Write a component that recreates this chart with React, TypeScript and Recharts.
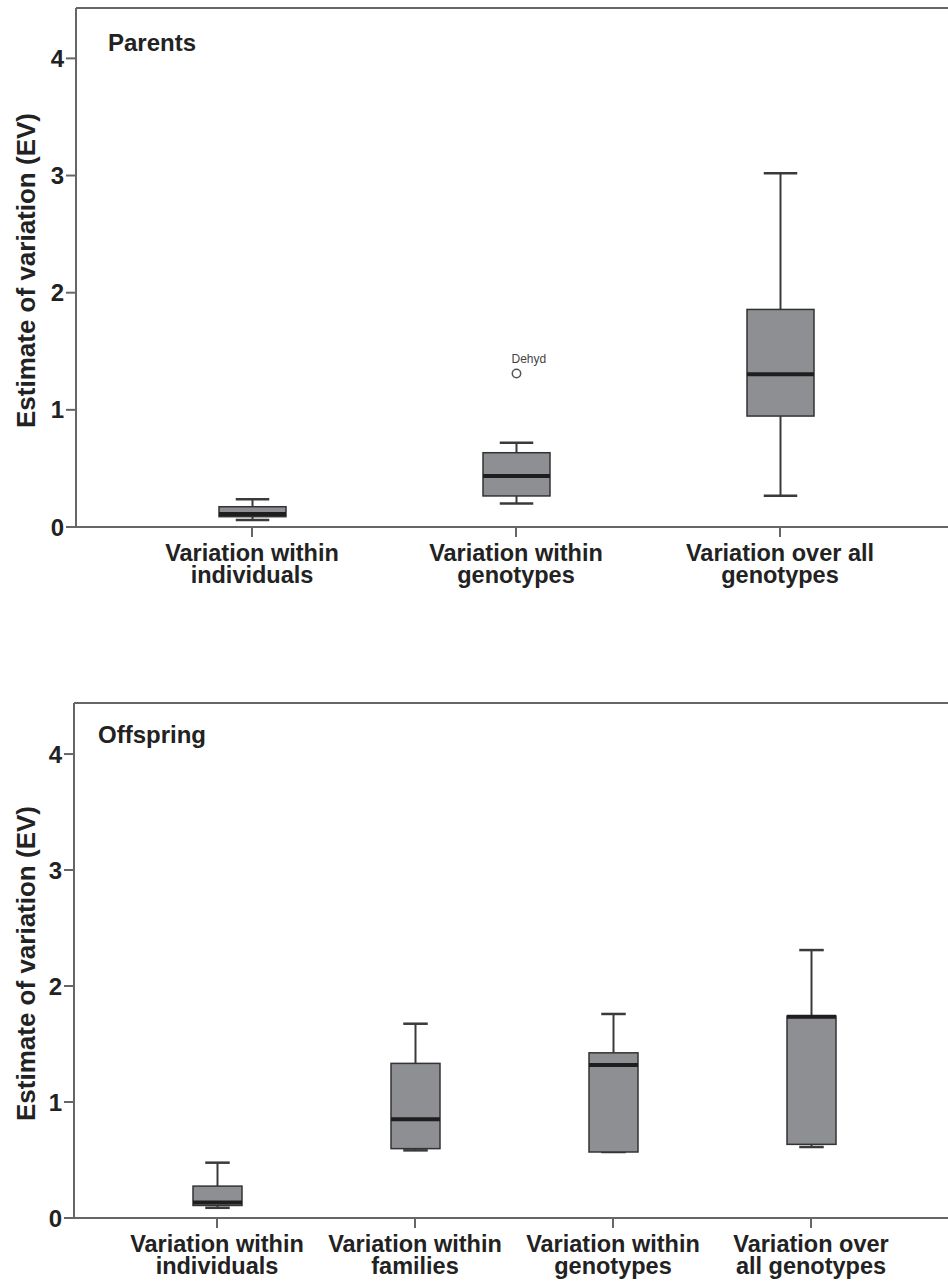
import { ComposedChart, Bar, XAxis, YAxis, ReferenceLine } from 'recharts';

// Parents panel
const parentGroups = ['Variation within\nindividuals', 'Variation within\ngenotypes', 'Variation over all\ngenotypes'];
const parentMin = [0.06, 0.2, 0.267];
const parentQ1 = [0.088, 0.265, 0.947];
const parentMedian = [0.112, 0.435, 1.303];
const parentQ3 = [0.173, 0.634, 1.857];
const parentMax = [0.236, 0.72, 3.02];
const parentOutliers = [[], [{ value: 1.31, label: 'Dehyd' }], []];

// Offspring panel
const offspringGroups = [
  'Variation within\nindividuals',
  'Variation within\nfamilies',
  'Variation within\ngenotypes',
  'Variation over\nall genotypes',
];
const offspringMin = [0.088, 0.583, 0.569, 0.612];
const offspringQ1 = [0.108, 0.598, 0.569, 0.635];
const offspringMedian = [0.134, 0.851, 1.318, 1.735];
const offspringQ3 = [0.275, 1.333, 1.424, 1.741];
const offspringMax = [0.477, 1.675, 1.759, 2.31];

const yTicks = [0, 1, 2, 3, 4];

type Outlier = { value: number; label: string };
type Row = {
  group: string;
  min: number;
  q1: number;
  median: number;
  q3: number;
  max: number;
  outliers: Outlier[];
};

const buildRows = (
  groups: string[],
  min: number[],
  q1: number[],
  median: number[],
  q3: number[],
  max: number[],
  outliers?: Outlier[][]
): Row[] =>
  groups.map((group, i) => ({
    group,
    min: min[i],
    q1: q1[i],
    median: median[i],
    q3: q3[i],
    max: max[i],
    outliers: outliers ? outliers[i] : [],
  }));

const parentRows = buildRows(parentGroups, parentMin, parentQ1, parentMedian, parentQ3, parentMax, parentOutliers);
const offspringRows = buildRows(offspringGroups, offspringMin, offspringQ1, offspringMedian, offspringQ3, offspringMax);

const FONT = '"Liberation Sans", Arial, Helvetica, sans-serif';
const AXIS = '#666';
const INK = '#222';

// The bar spans q1..q3; its pixel height gives the value-to-pixel ratio for whiskers and outliers
const BoxShape = (props: any) => {
  const { x, y, width, height, payload } = props;
  const d = payload as Row;
  const top = Math.min(y, y + height);
  const h = Math.abs(height);
  const bottom = top + h;
  const ppu = h / (d.q3 - d.q1);
  const toY = (v: number) => bottom - (v - d.q1) * ppu;
  const cx = x + width / 2;
  const cap = width / 4;
  return (
    <g>
      <line x1={cx} x2={cx} y1={toY(d.max)} y2={top} stroke="#3a3a3a" strokeWidth={2} />
      <line x1={cx} x2={cx} y1={bottom} y2={toY(d.min)} stroke="#3a3a3a" strokeWidth={2} />
      <line x1={cx - cap} x2={cx + cap} y1={toY(d.max)} y2={toY(d.max)} stroke="#3a3a3a" strokeWidth={2.5} />
      <line x1={cx - cap} x2={cx + cap} y1={toY(d.min)} y2={toY(d.min)} stroke="#3a3a3a" strokeWidth={2.5} />
      <rect x={x} y={top} width={width} height={h} fill="#8e8f93" stroke="#333" strokeWidth={1.5} />
      <line x1={x} x2={x + width} y1={toY(d.median)} y2={toY(d.median)} stroke="#1e1e1e" strokeWidth={4} />
      {d.outliers.map((o) => (
        <g key={o.label}>
          <circle cx={cx} cy={toY(o.value)} r={4.2} fill="#fff" stroke="#555" strokeWidth={1.5} />
          <text x={cx - 5} y={toY(o.value) - 11} fontSize={12} fontFamily={FONT} fill="#444">
            {o.label}
          </text>
        </g>
      ))}
    </g>
  );
};

const GroupTick = (props: any) => {
  const { x, y, payload } = props;
  const lines = String(payload.value).split('\n');
  return (
    <text x={x} y={y} textAnchor="middle" fontSize={23.5} fontWeight="bold" fontFamily={FONT} fill={INK}>
      {lines.map((line, i) => (
        <tspan key={i} x={x} dy={i === 0 ? 22 : 21.5}>
          {line}
        </tspan>
      ))}
    </text>
  );
};

// Rotated axis title, centred on the plot height
const AxisTitle = (props: any) => {
  const { viewBox } = props;
  const cy = viewBox.y + viewBox.height / 2 + 3;
  const cx = 26;
  return (
    <text
      x={cx}
      y={cy}
      transform={`rotate(-90 ${cx} ${cy})`}
      textAnchor="middle"
      dominantBaseline="central"
      fontSize={26}
      fontWeight="bold"
      fontFamily={FONT}
      fill={INK}
    >
      Estimate of variation (EV)
    </text>
  );
};

type PanelProps = {
  title: string;
  titleX: number;
  titleY: number;
  rows: Row[];
  top: number;
  axisWidth: number;
  marginRight: number;
  xAxisHeight: number;
  yMax: number;
  barSize: number;
};

const Panel = ({ title, titleX, titleY, rows, top, axisWidth, marginRight, xAxisHeight, yMax, barSize }: PanelProps) => (
  <div style={{ position: 'absolute', left: 0, top, width: 960, height: 600 }}>
    <ComposedChart
      width={960}
      height={600}
      data={rows}
      margin={{ top: 8, right: marginRight, left: 0, bottom: 0 }}
    >
      <XAxis
        dataKey="group"
        type="category"
        padding={{ left: 44, right: 44 }}
        height={xAxisHeight}
        interval={0}
        tickSize={10}
        tickMargin={2}
        stroke={AXIS}
        strokeWidth={2}
        tick={<GroupTick />}
      />
      <YAxis
        type="number"
        domain={[0, yMax]}
        ticks={yTicks}
        width={axisWidth}
        tickSize={10}
        tickMargin={2}
        stroke={AXIS}
        strokeWidth={2}
        tick={{ fontSize: 24, fontWeight: 'bold', fontFamily: FONT, fill: INK }}
        label={<AxisTitle />}
      />
      <ReferenceLine y={yMax} stroke={AXIS} strokeWidth={2} />
      <Bar
        dataKey={(d: Row) => [d.q1, d.q3]}
        barSize={barSize}
        shape={<BoxShape />}
        isAnimationActive={false}
      />
    </ComposedChart>
    <div
      style={{
        position: 'absolute',
        left: titleX,
        top: titleY,
        fontFamily: FONT,
        fontWeight: 'bold',
        fontSize: 24,
        lineHeight: '24px',
        color: INK,
      }}
    >
      {title}
    </div>
  </div>
);

export default function App() {
  return (
    <div
      style={{
        position: 'absolute',
        left: 0,
        top: 0,
        width: 948,
        height: 1283,
        overflow: 'hidden',
        background: '#fff',
      }}
    >
      <Panel
        title="Parents"
        titleX={108}
        titleY={31}
        rows={parentRows}
        top={0}
        axisWidth={76}
        marginRight={4}
        xAxisHeight={73}
        yMax={4.43}
        barSize={67}
      />
      <Panel
        title="Offspring"
        titleX={98}
        titleY={28}
        rows={offspringRows}
        top={695}
        axisWidth={74}
        marginRight={6}
        xAxisHeight={77}
        yMax={4.44}
        barSize={49}
      />
    </div>
  );
}
